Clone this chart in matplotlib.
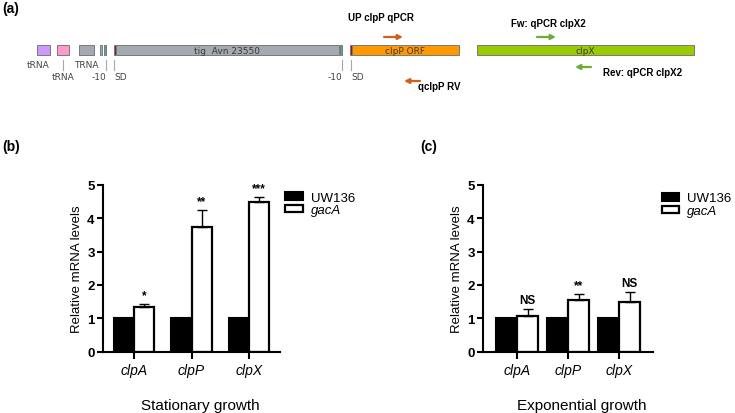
import numpy as np
import matplotlib.pyplot as plt
from matplotlib.patches import Rectangle

plt.rcParams['font.family'] = ['Liberation Sans', 'DejaVu Sans']

# qPCR data
genes = ['clpA', 'clpP', 'clpX']
strains = ['UW136', 'gacA']

uw136_stat = [1.0, 1.0, 1.0]
gaca_stat = [1.33, 3.73, 4.48]
gaca_stat_err = [0.10, 0.52, 0.15]
stat_sig = ['*', '**', '***']

uw136_exp = [1.0, 1.0, 1.0]
gaca_exp = [1.06, 1.54, 1.49]
gaca_exp_err = [0.21, 0.19, 0.30]
exp_sig = ['NS', '**', 'NS']

# gene map (a), positions in map units along the track
feat_start = [37, 57, 79, 100.5, 104, 114, 116, 340, 350, 352, 477]
feat_end = [50, 69, 94, 102.5, 106.5, 116, 339, 342, 352, 459, 694]
feat_color = ['#cc99ff', '#ff99cc', '#a4aab2', '#a4aab2', '#33b0b3', '#8b1a1a',
              '#a4aab2', '#33b0b3', '#8b1a1a', '#ff9900', '#99cc00']
feat_label = ['', '', '', '', '', '', 'tig  Avn 23550', '', '', 'clpP ORF', 'clpX']

ann_text = ['tRNA', 'tRNA', 'TRNA', '-10', 'SD', '-10', 'SD']
ann_x = [38, 63, 86, 106, 114, 342, 351]
ann_ha = ['center', 'center', 'center', 'right', 'left', 'right', 'left']
ann_row = [0, 1, 0, 1, 1, 1, 1]
ann_ticks = [63, 106, 114, 342, 351]

primer_name = ['UP clpP qPCR', 'qclpP RV', 'Fw: qPCR clpX2', 'Rev: qPCR clpX2']
primer_from = [384, 420, 537, 591]
primer_to = [403, 404, 556, 575]
primer_y = [38, 82, 38, 68]
primer_color = ['#d2601a', '#d2601a', '#6aad3a', '#6aad3a']
primer_lx = [381, 418, 548, 603]
primer_ly = [18, 87, 24, 73]
primer_ha = ['center', 'left', 'center', 'left']

fig = plt.figure(figsize=(7.35, 4.14), dpi=100)

# panel (a) drawn in pixel-like coordinates
ax0 = fig.add_axes([0, 0, 1, 1])
ax0.set_xlim(0, 735)
ax0.set_ylim(414, 0)
ax0.axis('off')

track_top, track_h = 46, 10
for s, e, c, lab in zip(feat_start, feat_end, feat_color, feat_label):
    ax0.add_patch(Rectangle((s, track_top), e - s, track_h, facecolor=c,
                            edgecolor='#7a7a7a', lw=0.7))
    if lab:
        ax0.text((s + e) / 2, track_top + track_h / 2 + 0.5, lab, ha='center', va='center',
                 fontsize=6.5, family='DejaVu Sans', color='#3a3a3a')

for xt in ann_ticks:
    ax0.plot([xt, xt], [61, 71], color='#a8a8a8', lw=0.8)
for t, x, ha, r in zip(ann_text, ann_x, ann_ha, ann_row):
    ax0.text(x, 66 + r * 11, t, ha=ha, va='center', fontsize=6.5,
             family='DejaVu Sans', color='#444444')

for name, x0, x1, y, c, lx, ly, ha in zip(primer_name, primer_from, primer_to, primer_y,
                                          primer_color, primer_lx, primer_ly, primer_ha):
    ax0.annotate('', xy=(x1, y), xytext=(x0, y),
                 arrowprops=dict(arrowstyle='-|>', color=c, lw=1.6, mutation_scale=7,
                                 shrinkA=0, shrinkB=0))
    ax0.text(lx, ly, name, ha=ha, va='center', fontsize=7, fontweight='bold')

ax0.text(2, 9, '(a)', ha='left', va='center', fontsize=10, fontweight='bold')
ax0.text(2, 147, '(b)', ha='left', va='center', fontsize=10, fontweight='bold')
ax0.text(420, 147, '(c)', ha='left', va='center', fontsize=10, fontweight='bold')
ax0.text(200, 406, 'Stationary growth', ha='center', va='center', fontsize=11)
ax0.text(582, 406, 'Exponential growth', ha='center', va='center', fontsize=11)


def bar_panel(rect, ctrl, mut, err, sig, w, xlim, leg_anchor):
    ax = fig.add_axes(rect)
    x = np.arange(len(genes))
    b1 = ax.bar(x - w / 2, ctrl, w, color='black', edgecolor='black', lw=1.5, label=strains[0])
    b2 = ax.bar(x + w / 2, mut, w, color='white', edgecolor='black', lw=1.6, label=strains[1])
    ax.errorbar(x + w / 2, mut, yerr=[np.zeros(len(err)), err], fmt='none', ecolor='black',
                elinewidth=1, capsize=3.4, capthick=1, zorder=1)
    for xi, yi, ei, s in zip(x, mut, err, sig):
        ax.annotate(s, (xi + w / 2, yi + ei), xytext=(0, 2), textcoords='offset points',
                    ha='center', va='bottom', fontsize=8.5, fontweight='bold')
    ax.set_xlim(*xlim)
    ax.set_ylim(0, 5)
    ax.set_yticks(range(6))
    ax.set_yticklabels([str(v) for v in range(6)], fontweight='bold', fontsize=9.5)
    ax.set_xticks(x)
    ax.set_xticklabels(genes, style='italic', fontsize=10)
    for sp in ['top', 'right']:
        ax.spines[sp].set_visible(False)
    for sp in ['left', 'bottom']:
        ax.spines[sp].set_linewidth(1.5)
    ax.tick_params(axis='y', length=4, width=1.5, pad=2)
    ax.tick_params(axis='x', length=5, width=1.5, pad=3)
    ax.set_ylabel('Relative mRNA levels', fontsize=9.5, labelpad=3)
    leg = ax.legend(handles=[b1, b2], loc='upper left', bbox_to_anchor=leg_anchor,
                    frameon=False, fontsize=9.5, handlelength=1.35, handleheight=0.5,
                    handletextpad=0.6, labelspacing=0.05, borderaxespad=0, borderpad=0)
    leg.get_texts()[1].set_style('italic')
    return ax


bar_panel([103 / 735, 61.5 / 414, 177 / 735, 166.5 / 414], uw136_stat, gaca_stat,
          gaca_stat_err, stat_sig, 0.35, (-0.54, 2.54), (1.03, 0.96))
bar_panel([483 / 735, 61.5 / 414, 170 / 735, 166.5 / 414], uw136_exp, gaca_exp,
          gaca_exp_err, exp_sig, 0.42, (-0.67, 2.67), (1.05, 0.955))

fig.savefig('out.png', dpi=100)
